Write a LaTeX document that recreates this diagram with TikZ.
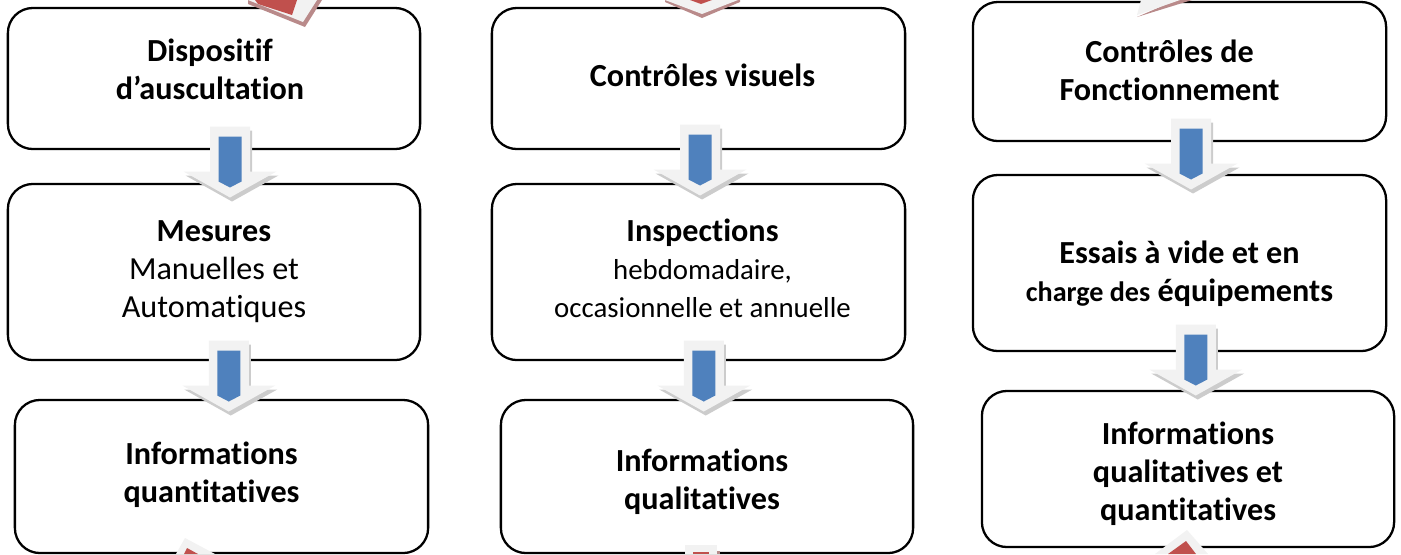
\documentclass[tikz,border=0pt]{standalone}
\usepackage{fontspec}
\setmainfont{Carlito}[Ligatures=NoCommon]
\usetikzlibrary{calc}
\newcommand{\mainsz}{\fontsize{9.15}{10.8}\selectfont}
\newcommand{\smallsz}{\fontsize{8.2}{9.5}\selectfont}
\newcommand{\tinysz}{\fontsize{8}{9}\selectfont}
\definecolor{flowblue}{HTML}{4F81BD}
\definecolor{cyclered}{HTML}{C0504D}
\definecolor{cycleshade}{HTML}{B98A8A}
\definecolor{halogrey}{HTML}{F2F2F2}

\begin{document}
\begin{tikzpicture}[x=0.01cm, y=-0.01cm,
  box/.style={draw=black, line width=0.65pt, rounded corners=0.25cm, fill=white,
    minimum width=4.12cm},
  txt/.style={align=center, font=\mainsz, inner sep=0pt},
  flow/.pic={
    % Shadow
    \fill[gray!40, shift={(2,4)}] (-20,-35.5) -- (20,-35.5) -- (20,9.5) -- (46.5,9.5)
      -- (0,35.5) -- (-46.5,9.5) -- (-20,9.5) -- cycle;
    % Halo
    \fill[halogrey] (-20,-35.5) -- (20,-35.5) -- (20,9.5) -- (46.5,9.5)
      -- (0,35.5) -- (-46.5,9.5) -- (-20,9.5) -- cycle;
    % Arrow
    \fill[flowblue] (-11.5,-25.5) -- (11.5,-25.5) -- (11.5,19.5) -- (0,25.5)
      -- (-11.5,19.5) -- cycle;
  }]
\useasboundingbox (0,0) rectangle (1401,554);
\clip (0,0) rectangle (1401,554);

% Column 1
\node[box, minimum height=1.41cm] (A1) at (214,78.5) {};
\node[txt] (A1t) at ($(A1.center)+(-4,-9)$) {\textbf{Dispositif}\\\textbf{d’auscultation}};
\node[box, minimum height=1.76cm] (A2) at (214,272) {};
\node[txt] (A2t) at (A2.center) {\textbf{Mesures}\\Manuelles et\\Automatiques};
\node[box, minimum width=4.13cm, minimum height=1.53cm] (A3) at (221.5,476.5) {};
\node[txt] (A3t) at ($(A3.center)+(-10,-2)$) {\textbf{Informations}\\\textbf{quantitatives}};
% Column 2
\node[box, minimum width=4.13cm, minimum height=1.41cm] (B1) at (698.5,78.5) {};
\node[txt] (B1t) at ($(B1.center)+(4,-3)$) {\textbf{Contrôles visuels}};
\node[box, minimum width=4.13cm, minimum height=1.76cm] (B2) at (698.5,272) {};
\node[txt] (B2t) at ($(B2.center)+(4,-4)$) {\textbf{Inspections}\\\smallsz hebdomadaire,\\\smallsz occasionnelle et annuelle};
\node[box, minimum height=1.53cm] (B3) at (707,476.5) {};
\node[txt] (B3t) at ($(B3.center)+(-5,5)$) {\textbf{Informations}\\\textbf{qualitatives}};
% Column 3
\node[box, minimum width=4.13cm, minimum height=1.39cm] (C1) at (1179.5,71.5) {};
\node[txt] (C1t) at ($(C1.center)+(-10,-1)$) {\textbf{Contrôles de}\\\textbf{Fonctionnement}};
\node[box, minimum width=4.13cm, minimum height=1.76cm] (C2) at (1179.5,263) {};
\node[txt] (C2t) at ($(C2.center)+(0,11)$) {\textbf{Essais à vide et en}\\{\tinysz\textbf{charge des}} \textbf{équipements}};
\node[box, minimum height=1.56cm] (C3) at (1188,469) {};
\node[txt] (C3t) at ($(C3.center)+(0,5)$) {\textbf{Informations}\\\textbf{qualitatives et}\\\textbf{quantitatives}};

% Flow arrows
\pic at ($(A1.south)!.5!(A2.north)+(16,-4.5)$) {flow};
\pic at ($(A2.south)!.5!(A3.north)+(11,-4)$) {flow};
\pic at ($(B1.south)!.5!(B2.north)+(1.5,-6.5)$) {flow};
\pic at ($(B2.south)!.5!(B3.north)+(1,-4)$) {flow};
\pic at ($(C1.south)!.5!(C2.north)+(11.5,-4)$) {flow};
\pic at ($(C2.south)!.5!(C3.north)+(12,-11)$) {flow};

% Cycle arrows (top)
\fill[cycleshade] (248,4) -- (305,27) -- (322,0) -- (248,0) -- cycle;
\fill[halogrey] (248,0) -- (303,22) -- (317,0) -- cycle;
\fill[cyclered] (255,0) -- (258,4) -- (292,15) -- (297,0) -- cycle;
\fill[cycleshade] (665,2) -- (702,18) -- (740,2) -- (740,0) -- (665,0) -- cycle;
\fill[halogrey] (665,0) -- (702,14) -- (738,0) -- cycle;
\fill[cyclered] (690,0) -- (701,4) -- (712,0) -- cycle;
\fill[cycleshade] (1137,17) -- (1192,0) -- (1176,0) -- cycle;
\fill[halogrey] (1137,15) -- (1141,0) -- (1180,0) -- cycle;
% Cycle arrows (bottom)
\fill[halogrey] (176,554) -- (185,538) -- (215,554) -- cycle;
\fill[cyclered] (184,554) -- (187,548) -- (198,554) -- cycle;
\fill[cycleshade] (688,551) rectangle (720,554);
\fill[halogrey] (685,545) rectangle (717,554);
\fill[cyclered] (693,552) rectangle (709,554);
\fill[halogrey] (1155,554) -- (1187,530) -- (1208,554) -- cycle;
\fill[cyclered] (1168,554) -- (1186,541) -- (1196,554) -- cycle;
\end{tikzpicture}
\end{document}
